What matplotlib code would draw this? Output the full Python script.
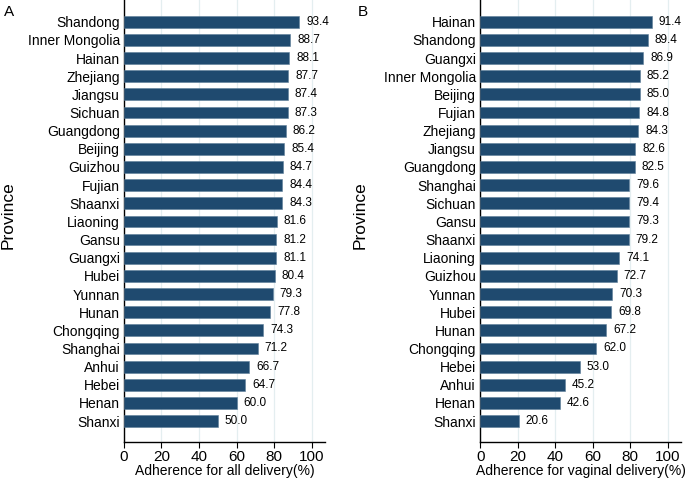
import matplotlib
matplotlib.use("Agg")
import matplotlib.pyplot as plt

plt.rcParams['font.family'] = ['Liberation Sans', 'DejaVu Sans']

# --- Data (top to bottom as shown) ---
prov_all = ['Shandong', 'Inner Mongolia', 'Hainan', 'Zhejiang', 'Jiangsu', 'Sichuan',
            'Guangdong', 'Beijing', 'Guizhou', 'Fujian', 'Shaanxi', 'Liaoning', 'Gansu',
            'Guangxi', 'Hubei', 'Yunnan', 'Hunan', 'Chongqing', 'Shanghai', 'Anhui',
            'Hebei', 'Henan', 'Shanxi']
val_all = [93.4, 88.7, 88.1, 87.7, 87.4, 87.3, 86.2, 85.4, 84.7, 84.4, 84.3, 81.6, 81.2,
           81.1, 80.4, 79.3, 77.8, 74.3, 71.2, 66.7, 64.7, 60.0, 50.0]

prov_vag = ['Hainan', 'Shandong', 'Guangxi', 'Inner Mongolia', 'Beijing', 'Fujian',
            'Zhejiang', 'Jiangsu', 'Guangdong', 'Shanghai', 'Sichuan', 'Gansu', 'Shaanxi',
            'Liaoning', 'Guizhou', 'Yunnan', 'Hubei', 'Hunan', 'Chongqing', 'Hebei',
            'Anhui', 'Henan', 'Shanxi']
val_vag = [91.4, 89.4, 86.9, 85.2, 85.0, 84.8, 84.3, 82.6, 82.5, 79.6, 79.4, 79.3, 79.2,
           74.1, 72.7, 70.3, 69.8, 67.2, 62.0, 53.0, 45.2, 42.6, 20.6]

xticks = [0, 20, 40, 60, 80, 100]
bar_color = '#1f4a6f'

fig = plt.figure(figsize=(6.85, 4.79), dpi=100)
ax1 = fig.add_axes([0.181, 0.077, 0.293, 0.923])
ax2 = fig.add_axes([0.701, 0.077, 0.293, 0.923])


def draw(ax, provs, vals, xlabel, letter, letter_x, ylab_x):
    n = len(provs)
    ypos = list(range(n - 1, -1, -1))
    bars = ax.barh(ypos, vals, height=0.65, color=bar_color,
                   edgecolor='#5d7d99', linewidth=0.4, zorder=3)
    ax.bar_label(bars, labels=[f'{v:.1f}' for v in vals], padding=5, fontsize=8.5)
    ax.set_yticks(ypos)
    ax.set_yticklabels(provs, fontsize=10)
    ax.tick_params(axis='y', length=0, pad=3)
    ax.set_xticks(xticks)
    ax.tick_params(axis='x', labelsize=11, length=4, width=0.8, color='black', pad=1.5)
    ax.set_xlim(0, 107)
    ax.set_ylim(-1.16, n - 1 + 1.2)
    ax.grid(axis='x', color='#e4eef0', linewidth=0.9, zorder=0)
    ax.spines['top'].set_visible(False)
    ax.spines['right'].set_visible(False)
    ax.spines['left'].set_linewidth(1.0)
    ax.spines['bottom'].set_linewidth(1.0)
    ax.set_xlabel(xlabel, fontsize=10, labelpad=0)
    ax.set_ylabel('Province', fontsize=12.5)
    ax.yaxis.set_label_coords(ylab_x, 0.551, transform=fig.transFigure)
    fig.text(letter_x, 0.975, letter, fontsize=11, ha='left', va='center')


draw(ax1, prov_all, val_all, 'Adherence for all delivery(%)', 'A', 0.006, 0.023)
draw(ax2, prov_vag, val_vag, 'Adherence for vaginal delivery(%)', 'B', 0.522, 0.537)

fig.savefig('out.png', dpi=100)
